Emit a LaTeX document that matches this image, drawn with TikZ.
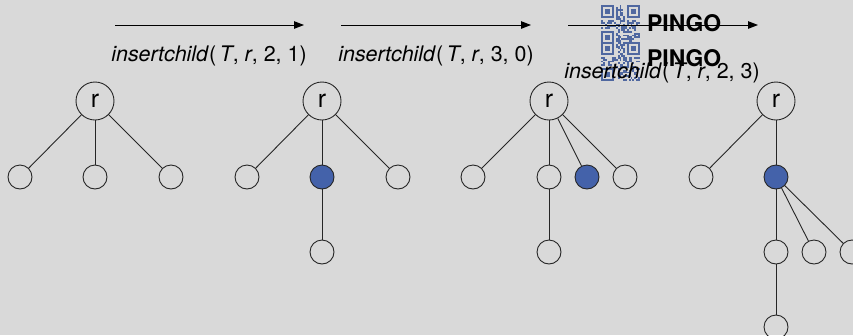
\documentclass[tikz,border=0pt]{standalone}
\usepackage{fontspec}
\setmainfont{TeX Gyre Heros}
\usetikzlibrary{arrows.meta}

\definecolor{bg}{RGB}{217,217,217}
\definecolor{nodeblue}{RGB}{68,98,170}
\definecolor{qrblue}{RGB}{80,104,160}

\tikzset{
  root/.style={circle, draw=black!85, line width=0.9bp, minimum size=38bp,
    inner sep=0pt, font=\fontsize{25}{25}\selectfont},
  leaf/.style={circle, draw=black!85, line width=0.9bp, minimum size=24bp, inner sep=0pt},
  newleaf/.style={leaf, fill=nodeblue},
  edge/.style={draw=black!85, line width=0.9bp},
  op/.style={-{Triangle[length=10bp,width=7.5bp]}, line width=1bp},
  oplabel/.style={font=\fontsize{21.5}{21.5}\selectfont, inner sep=0pt},
  pingo/.style={font=\fontsize{23}{23}\selectfont\bfseries, inner sep=0pt, anchor=west},
}

% QR-style code: 21x21 modules of 1.85bp, top-left corner at (#1,#2), random seed #3
\newcommand{\drawqr}[3]{%
  \pgfmathsetseed{#3}%
  \foreach \qa/\qb in {0/0,14/0,0/14}{%
    \fill[qrblue] ({#1+\qa*1.85},{#2+\qb*1.85}) rectangle ++(12.95,12.95);
    \fill[bg] ({#1+(\qa+1)*1.85},{#2+(\qb+1)*1.85}) rectangle ++(9.25,9.25);
    \fill[qrblue] ({#1+(\qa+2)*1.85},{#2+(\qb+2)*1.85}) rectangle ++(5.55,5.55);
  }%
  \foreach \qi in {0,...,20}{%
    \foreach \qj in {0,...,20}{%
      \pgfmathtruncatemacro\qrskip{((\qi<8)&&(\qj<8))||((\qi>12)&&(\qj<8))||((\qi<8)&&(\qj>12))}%
      \pgfmathrandominteger{\qrbit}{0}{1}%
      \ifnum\qrskip=0 \ifnum\qrbit=1
        \fill[qrblue] ({#1+\qi*1.85},{#2+\qj*1.85}) rectangle ++(1.85,1.85);
      \fi\fi
    }%
  }%
}

\begin{document}
\begin{tikzpicture}[x=1bp,y=-1bp]
\fill[bg] (0,0) rectangle (853,335);
\useasboundingbox (0,0) rectangle (853,335);

% QR codes
\drawqr{601}{5}{17}
\drawqr{601}{42}{53}

% operation arrows
\coordinate (s1) at (115,25); \coordinate (e1) at (304,25);
\coordinate (s2) at (341,25); \coordinate (e2) at (531,25);
\coordinate (s3) at (568,25); \coordinate (e3) at (758,25);
\draw[op] (s1) -- (e1);
\draw[op] (s2) -- (e2);
\draw[op] (s3) -- (e3);

\node[pingo] (p1) at (647,23) {PINGO};
\node[pingo] (p2) at (647,58) {PINGO};

\node[oplabel] (l1) at (209,56) {\textit{insertchild}(\,\textit{T}, \textit{r}, 2, 1)};
\node[oplabel] (l2) at (436,56) {\textit{insertchild}(\,\textit{T}, \textit{r}, 3, 0)};
\node[oplabel] (l3) at (662,73) {\textit{insertchild}(\,\textit{T}, \textit{r}, 2, 3)};

% tree 1
\node[root] (a) at (95,101) {r};
\node[leaf] (a1) at (20,177) {};
\node[leaf] (a2) at (95,177) {};
\node[leaf] (a3) at (171,177) {};
\foreach \c in {a1,a2,a3} \draw[edge] (a) -- (\c);

% tree 2
\node[root] (b) at (322,101) {r};
\node[leaf] (b1) at (247,177) {};
\node[newleaf] (b2) at (322,177) {};
\node[leaf] (b3) at (398,177) {};
\node[leaf] (b21) at (322,252) {};
\foreach \c in {b1,b2,b3} \draw[edge] (b) -- (\c);
\draw[edge] (b2) -- (b21);

% tree 3
\node[root] (c) at (549,101) {r};
\node[leaf] (c1) at (473,177) {};
\node[leaf] (c2) at (549,177) {};
\node[newleaf] (c3) at (587,177) {};
\node[leaf] (c4) at (625,177) {};
\node[leaf] (c21) at (549,252) {};
\foreach \c in {c1,c2,c3,c4} \draw[edge] (c) -- (\c);
\draw[edge] (c2) -- (c21);

% tree 4
\node[root] (d) at (776,101) {r};
\node[leaf] (d1) at (701,177) {};
\node[newleaf] (d2) at (776,177) {};
\node[leaf] (d21) at (776,252) {};
\node[leaf] (d22) at (814,252) {};
\node[leaf] (d23) at (852,252) {};
\node[leaf] (d211) at (776,327) {};
\foreach \c in {d1,d2} \draw[edge] (d) -- (\c);
\foreach \c in {d21,d22,d23} \draw[edge] (d2) -- (\c);
\draw[edge] (d21) -- (d211);
\end{tikzpicture}
\end{document}
